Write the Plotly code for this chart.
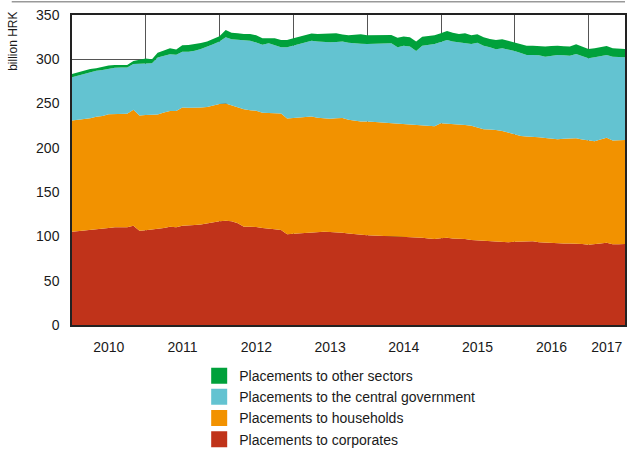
import pandas as pd
import plotly.graph_objects as go

# monthly end-of-period stocks, billion HRK (Dec 2009 - Jun 2017)
months = pd.date_range("2009-12-31", "2017-06-30", freq="ME")

corporates = [
    105.4, 106.0, 106.5, 107.0, 107.7, 108.4, 109.5, 110.3, 110.3, 110.5,
    112.1, 106.5, 107.0, 107.7, 108.4, 109.5, 111.0, 110.3, 112.1, 112.3,
    112.8, 113.6, 115.0, 116.3, 117.0, 117.8, 117.0, 115.0, 111.0, 110.8,
    110.6, 109.5, 108.4, 108.0, 107.3, 102.4, 103.0, 103.5, 104.2, 105.0,
    105.4, 105.2, 105.0, 104.8, 104.2, 103.4, 102.5, 101.6, 101.4, 101.1,
    100.9, 100.5, 100.1, 99.7, 99.4, 99.1, 98.8, 98.6, 97.8, 97.1,
    98.0, 98.6, 97.8, 97.6, 97.0, 96.0, 95.5, 94.9, 94.4, 93.8,
    93.0, 93.3, 94.1, 94.3, 94.4, 94.5, 93.5, 93.0, 92.5, 91.8,
    91.9, 92.1, 92.2, 91.5, 90.7, 91.1, 92.0, 93.0, 91.1, 91.2,
    91.5,
]
households = [
    125.4, 125.5, 126.0, 126.5, 127.3, 127.6, 128.5, 128.0, 128.0, 128.0,
    130.8, 130.0, 130.2, 129.7, 129.2, 130.5, 130.7, 131.4, 133.4, 132.9,
    132.3, 131.9, 131.0, 131.7, 132.5, 132.2, 131.0, 131.0, 132.6, 131.7,
    131.4, 130.0, 130.6, 130.7, 131.4, 130.7, 130.5, 130.4, 130.4, 130.3,
    128.6, 128.3, 128.0, 128.7, 129.6, 128.2, 128.0, 128.1, 128.3, 128.6,
    128.1, 127.8, 127.7, 127.6, 127.6, 127.4, 127.2, 127.2, 127.8, 127.3,
    129.8, 128.9, 129.2, 128.9, 128.9, 129.0, 127.8, 126.1, 126.3, 126.5,
    126.0, 124.0, 121.4, 119.2, 118.4, 118.3, 118.5, 118.0, 118.0, 118.0,
    118.3, 118.6, 118.7, 118.0, 117.8, 116.4, 117.5, 118.3, 117.2, 117.5,
    117.5,
]
government = [
    48.9, 50.0, 51.0, 52.0, 52.0, 52.0, 51.5, 52.2, 52.3, 52.1,
    51.8, 58.7, 58.3, 58.1, 64.4, 63.5, 63.9, 63.3, 63.1, 63.4,
    64.4, 66.0, 68.0, 69.0, 70.5, 74.8, 74.6, 76.0, 77.4, 78.5,
    77.0, 77.0, 79.0, 77.3, 74.8, 80.4, 81.9, 83.1, 84.4, 85.7,
    86.0, 86.0, 86.2, 86.1, 86.2, 87.2, 87.5, 87.8, 87.6, 87.8,
    88.8, 89.7, 90.2, 86.2, 88.4, 88.0, 83.4, 89.6, 90.9, 92.9,
    91.7, 94.3, 93.0, 92.7, 92.3, 92.3, 95.5, 94.4, 92.8, 91.0,
    93.4, 93.7, 93.9, 93.5, 92.1, 92.1, 92.5, 92.0, 93.5, 95.1,
    94.3, 93.4, 95.1, 94.0, 92.6, 94.8, 94.0, 93.6, 94.7, 93.9,
    93.3,
]
other_sectors = [
    3.8, 4.0, 4.0, 3.5, 3.0, 3.5, 3.5, 3.0, 3.0, 3.0,
    3.5, 4.5, 5.5, 4.5, 5.5, 6.5, 6.8, 6.0, 7.2, 7.4,
    7.5, 7.0, 6.0, 6.0, 6.0, 8.2, 7.4, 7.5, 7.6, 7.6,
    8.0, 7.2, 5.7, 7.7, 8.3, 8.3, 8.3, 8.5, 8.0, 8.0,
    8.6, 9.1, 9.6, 9.7, 8.0, 8.2, 9.6, 10.7, 9.7, 9.7,
    9.6, 9.4, 9.4, 10.9, 10.2, 10.3, 10.6, 10.1, 10.1, 9.7,
    10.0, 10.2, 10.0, 9.4, 11.1, 9.7, 9.4, 9.4, 9.5, 10.5,
    10.2, 10.0, 9.4, 10.0, 10.5, 10.5, 10.5, 11.3, 11.0, 10.5,
    10.3, 10.2, 11.0, 10.5, 10.6, 10.1, 10.5, 10.1, 9.4, 9.4,
    9.4,
]

series = [
    ("Placements to corporates", corporates, "#C0331A"),
    ("Placements to households", households, "#F29200"),
    ("Placements to the central government", government, "#63C3D1"),
    ("Placements to other sectors", other_sectors, "#00A13B"),
]

year_labels = ["2010", "2011", "2012", "2013", "2014", "2015", "2016", "2017"]
label_dates = ["2010-07-01", "2011-07-01", "2012-07-01", "2013-07-01",
               "2014-07-01", "2015-07-01", "2016-07-01", "2017-04-01"]
year_starts = ["2011-01-01", "2012-01-01", "2013-01-01", "2014-01-01",
               "2015-01-01", "2016-01-01", "2017-01-01"]

font_name = "Liberation Sans Narrow, Arial Narrow, Liberation Sans, sans-serif"

fig = go.Figure()

for name, values, color in series:
    fig.add_trace(go.Scatter(
        x = months, y = values,
        mode = "lines",
        stackgroup = "one",
        line = dict(width = 0, color = color),
        fillcolor = color,
        showlegend = False,
        name = name
    ))

# square legend swatches
for name, values, color in series:
    fig.add_trace(go.Scatter(
        x = [None], y = [None],
        mode = "markers",
        marker = dict(symbol = "square", size = 16, color = color),
        name = name
    ))

fig.update_layout(
    width = 638,
    height = 452,
    margin = dict(l = 72, r = 13, t = 15, b = 127, autoexpand = False),
    paper_bgcolor = "white",
    plot_bgcolor = "white",
    font = dict(family = font_name, size = 14, color = "#1a1a1a"),
    legend = dict(
        x = 0.23, y = -0.113,
        xanchor = "left", yanchor = "top",
        traceorder = "reversed",
        font = dict(size = 14),
        itemwidth = 30,
        bgcolor = "rgba(0,0,0,0)"
    ),
    shapes = [dict(
        type = "line", xref = "paper", yref = "paper",
        x0 = -0.109, x1 = 1.0, y0 = 1.043, y1 = 1.043,
        line = dict(color = "#999999", width = 1.5)
    )],
    annotations = [dict(
        text = "billion HRK", textangle = -90,
        xref = "paper", yref = "paper",
        x = -0.108, y = 1.016,
        xanchor = "center", yanchor = "top",
        showarrow = False,
        font = dict(size = 12)
    )]
)

fig.update_xaxes(
    range = ["2009-12-31", "2017-06-30"],
    tickvals = label_dates,
    ticktext = year_labels,
    ticks = "",
    showgrid = False,
    ticklabelstandoff = 8,
    ticklabeloverflow = "allow",
    minor = dict(tickvals = year_starts, showgrid = True, gridcolor = "#555555", gridwidth = 1, ticks = ""),
    showline = True, linecolor = "#222222", linewidth = 1.5, mirror = True
)

fig.update_yaxes(
    range = [0, 350],
    dtick = 50,
    showgrid = True,
    gridcolor = "#555555",
    gridwidth = 1,
    zeroline = False,
    ticks = "",
    ticklabelstandoff = 8,
    ticklabeloverflow = "allow",
    showline = True, linecolor = "#222222", linewidth = 1.5, mirror = True
)

# drop the default 8px body margin so the figure fills the window exactly
fig.write_html(
    "out.html",
    config = {"displayModeBar": False},
    post_script = "document.body.style.margin = '0';"
)
